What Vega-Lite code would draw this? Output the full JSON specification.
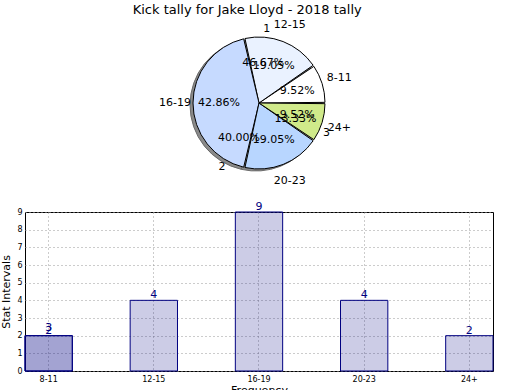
{
  "$schema": "https://vega.github.io/schema/vega-lite/v6.json",
  "padding": {"left": 0, "top": 3, "right": 0, "bottom": 0},
  "background": "white",
  "bounds": "flush",
  "title": {"text": "Kick tally for Jake Lloyd - 2018 tally", "anchor": "middle", "fontSize": 13, "fontWeight": "normal", "font": "DejaVu Sans", "color": "#000000", "offset": 2},
  "config": {"font": "DejaVu Sans", "view": {"stroke": null}},
  "datasets": {
    "intervals": [
      {"idx": 1, "interval": "8-11", "count": 2, "pct": "9.52%"},
      {"idx": 2, "interval": "12-15", "count": 4, "pct": "19.05%"},
      {"idx": 3, "interval": "16-19", "count": 9, "pct": "42.86%"},
      {"idx": 4, "interval": "20-23", "count": 4, "pct": "19.05%"},
      {"idx": 5, "interval": "24+", "count": 2, "pct": "9.52%"}
    ],
    "quarters": [
      {"idx": 1, "quarter": "1", "count": 7, "pct": "46.67%"},
      {"idx": 2, "quarter": "2", "count": 6, "pct": "40.00%"},
      {"idx": 3, "quarter": "3", "count": 2, "pct": "13.33%"}
    ],
    "overlap": [
      {"interval": "8-11", "count": 2, "label": "3"}
    ]
  },
  "vconcat": [
    {
      "width": 468,
      "height": 150,
      "view": {"stroke": null},
      "layer": [
        {
          "data": {"name": "intervals"},
          "mark": {"type": "arc", "outerRadius": 66, "fill": "#8a8a8a", "stroke": "#6a6a6a", "strokeWidth": 1, "xOffset": -3, "yOffset": 2},
          "encoding": {
            "theta": {"field": "count", "type": "quantitative", "stack": true, "scale": {"range": [1.5708, -4.7124]}},
            "order": {"field": "idx", "type": "quantitative"}
          }
        },
        {
          "data": {"name": "intervals"},
          "mark": {"type": "arc", "outerRadius": 66, "stroke": "#000000", "strokeWidth": 1, "padAngle": 0.02},
          "encoding": {
            "theta": {"field": "count", "type": "quantitative", "stack": true, "scale": {"range": [1.5708, -4.7124]}},
            "order": {"field": "idx", "type": "quantitative"},
            "color": {"field": "interval", "type": "nominal", "legend": null,
              "scale": {"domain": ["8-11", "12-15", "16-19", "20-23", "24+"], "range": ["#ffffff", "#eaf2ff", "#c6daff", "#b8d6ff", "#d0ea8a"]}}
          }
        },
        {
          "data": {"name": "intervals"},
          "mark": {"type": "text", "radius": 40, "fontSize": 11, "color": "#000000"},
          "encoding": {
            "theta": {"field": "count", "type": "quantitative", "stack": true, "scale": {"range": [1.5708, -4.7124]}},
            "order": {"field": "idx", "type": "quantitative"},
            "text": {"field": "pct"}
          }
        },
        {
          "data": {"name": "intervals"},
          "mark": {"type": "text", "radius": 84, "fontSize": 11, "color": "#000000"},
          "encoding": {
            "theta": {"field": "count", "type": "quantitative", "stack": true, "scale": {"range": [1.5708, -4.7124]}},
            "order": {"field": "idx", "type": "quantitative"},
            "text": {"field": "interval"}
          }
        },
        {
          "data": {"name": "quarters"},
          "mark": {"type": "text", "radius": 40, "fontSize": 11, "color": "#000000"},
          "encoding": {
            "theta": {"field": "count", "type": "quantitative", "stack": true, "scale": {"range": [1.5708, -4.7124]}},
            "order": {"field": "idx", "type": "quantitative"},
            "text": {"field": "pct"}
          }
        },
        {
          "data": {"name": "quarters"},
          "mark": {"type": "text", "radius": 74, "fontSize": 11, "color": "#000000"},
          "encoding": {
            "theta": {"field": "count", "type": "quantitative", "stack": true, "scale": {"range": [1.5708, -4.7124]}},
            "order": {"field": "idx", "type": "quantitative"},
            "text": {"field": "quarter"}
          }
        }
      ],
      "resolve": {"scale": {"theta": "independent"}}
    },
    {
      "width": 468,
      "height": 159,
      "view": {"stroke": "#000000", "strokeWidth": 1},
      "encoding": {
        "x": {"field": "interval", "type": "nominal", "sort": ["8-11", "12-15", "16-19", "20-23", "24+"],
          "scale": {"paddingInner": 0.55, "paddingOuter": 0},
          "axis": {"labelAngle": 0, "labelFontSize": 8, "labelColor": "#000000", "ticks": false, "labelPadding": 4, "domain": false,
            "grid": true, "gridDash": [1, 3], "gridColor": "#999999", "bandPosition": 0.5,
            "title": "Frequency", "titleFontSize": 11, "titleFontWeight": "normal", "titlePadding": 1}},
        "y": {"field": "count", "type": "quantitative",
          "scale": {"domain": [0, 9], "nice": false},
          "axis": {"values": [0, 1, 2, 3, 4, 5, 6, 7, 8, 9], "labelFontSize": 8, "labelColor": "#000000", "ticks": false, "labelPadding": 3, "domain": false,
            "grid": true, "gridDash": [1, 3], "gridColor": "#999999",
            "title": "Stat Intervals", "titleFontSize": 11, "titleFontWeight": "normal", "titlePadding": 5}}
      },
      "layer": [
        {
          "data": {"name": "intervals"},
          "mark": {"type": "bar", "fill": "#000080", "fillOpacity": 0.2, "stroke": "#000080", "strokeWidth": 1}
        },
        {
          "data": {"name": "overlap"},
          "mark": {"type": "bar", "fill": "#000080", "fillOpacity": 0.2, "stroke": "#000080", "strokeWidth": 1}
        },
        {
          "data": {"name": "intervals"},
          "mark": {"type": "text", "baseline": "bottom", "dy": 0, "fontSize": 11, "color": "#000080"},
          "encoding": {"text": {"field": "count"}}
        },
        {
          "data": {"name": "overlap"},
          "mark": {"type": "text", "baseline": "bottom", "dy": -3, "fontSize": 11, "color": "#000080"},
          "encoding": {"text": {"field": "label"}}
        },
        {
          "data": {"values": [{"site": "Dream-Stats.com"}]},
          "mark": {"type": "text", "fontSize": 12, "fontWeight": "bold", "color": "#aaaaaa", "opacity": 0.9},
          "encoding": {
            "x": {"datum": "8-11"},
            "y": {"datum": -0.62},
            "text": {"field": "site"}
          }
        }
      ]
    }
  ],
  "spacing": 34
}
